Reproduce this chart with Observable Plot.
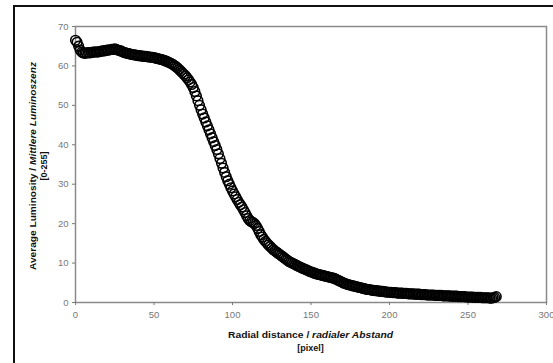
<!DOCTYPE html>
<html>
<head>
<meta charset="utf-8">
<script src="https://cdn.jsdelivr.net/npm/d3@7"></script>
<script src="https://cdn.jsdelivr.net/npm/@observablehq/plot@0.6"></script>
<style>
  html, body { margin: 0; padding: 0; background: #fff; }
  #wrap { position: relative; width: 553px; height: 363px; overflow: hidden; }
  #border { position: absolute; left: 13px; top: 5px; width: 700px; height: 500px;
            border-top: 2px solid #111; border-left: 2px solid #111; pointer-events: none; }
</style>
</head>
<body>
<div id="wrap"><div id="border"></div></div>
<script>
// Radial distance in pixels (one sample per pixel, 0..268)
const radialDistance = d3.range(0, 269);
// Average luminosity [0-255] for each radial distance
const luminosity = [
  66.5, 66.0, 65.0, 64.0, 63.5, 63.3, 63.2, 63.3, 63.4, 63.3,
  63.4, 63.5, 63.5, 63.6, 63.5, 63.6, 63.7, 63.8, 63.8, 63.9,
  64.0, 64.0, 64.1, 64.2, 64.2, 64.3, 64.2, 64.0, 63.9, 63.8,
  63.6, 63.4, 63.3, 63.2, 63.1, 63.0, 62.9, 62.8, 62.8, 62.7,
  62.6, 62.6, 62.5, 62.5, 62.4, 62.4, 62.3, 62.3, 62.2, 62.2,
  62.1, 62.0, 61.9, 61.8, 61.7, 61.6, 61.5, 61.3, 61.2, 61.0,
  60.8, 60.6, 60.4, 60.1, 59.8, 59.5, 59.1, 58.7, 58.3, 57.9,
  57.5, 57.0, 56.5, 55.9, 55.3, 54.5, 53.5, 52.4, 51.2, 50.0,
  48.9, 47.8, 46.8, 45.8, 44.8, 43.8, 42.8, 41.8, 40.8, 39.8,
  38.8, 37.7, 36.5, 35.3, 34.1, 33.0, 31.9, 30.9, 30.0, 29.1,
  28.3, 27.5, 26.8, 26.1, 25.4, 24.8, 24.2, 23.5, 22.8, 22.0,
  21.3, 20.8, 20.5, 20.3, 20.0, 19.5, 18.8, 18.0, 17.2, 16.6,
  16.0, 15.5, 15.0, 14.6, 14.2, 13.8, 13.4, 13.1, 12.8, 12.5,
  12.2, 11.9, 11.6, 11.3, 11.0, 10.7, 10.4, 10.2, 10.0, 9.8,
  9.6, 9.4, 9.2, 9.0, 8.8, 8.6, 8.5, 8.3, 8.1, 7.9,
  7.8, 7.6, 7.5, 7.3, 7.2, 7.1, 7.0, 6.9, 6.8, 6.7,
  6.6, 6.5, 6.4, 6.3, 6.2, 6.1, 5.9, 5.7, 5.5, 5.3,
  5.1, 4.9, 4.8, 4.6, 4.5, 4.4, 4.3, 4.2, 4.1, 4.0,
  3.9, 3.8, 3.7, 3.6, 3.5, 3.4, 3.3, 3.3, 3.2, 3.1,
  3.1, 3.0, 3.0, 2.9, 2.9, 2.8, 2.8, 2.7, 2.7, 2.6,
  2.6, 2.6, 2.5, 2.5, 2.5, 2.4, 2.4, 2.4, 2.4, 2.3,
  2.3, 2.3, 2.2, 2.2, 2.2, 2.2, 2.1, 2.1, 2.1, 2.1,
  2.0, 2.0, 2.0, 2.0, 1.9, 1.9, 1.9, 1.9, 1.9, 1.8,
  1.8, 1.8, 1.8, 1.8, 1.7, 1.7, 1.7, 1.7, 1.7, 1.6,
  1.6, 1.6, 1.6, 1.6, 1.5, 1.5, 1.5, 1.5, 1.5, 1.4,
  1.4, 1.4, 1.4, 1.4, 1.3, 1.3, 1.3, 1.3, 1.3, 1.2,
  1.2, 1.2, 1.2, 1.2, 1.1, 1.1, 1.2, 1.3, 1.5
];
const xTicks = [0, 50, 100, 150, 200, 250, 300];
const yTicks = [0, 10, 20, 30, 40, 50, 60, 70];
const xTitle = ["Radial distance / ", "radialer Abstand"];
const xTitle2 = "[pixel]";
const yTitle = ["Average Luminosity / ", "Mittlere Luminoszenz"];
const yTitle2 = "[0-255]";

const data = radialDistance.map((d, i) => ({x: d, y: luminosity[i]}));

const plot = Plot.plot({
  width: 553,
  height: 363,
  marginLeft: 75,
  marginRight: 7,
  marginTop: 26,
  marginBottom: 61,
  style: {fontFamily: "'Liberation Sans', Arial, sans-serif", fontSize: "9.5px", background: "transparent", overflow: "visible"},
  x: {domain: [0, 300], label: null},
  y: {domain: [0, 70], label: null},
  marks: [
    Plot.frame({stroke: "#8a8a8a", strokeWidth: 1.5}),
    Plot.axisX({ticks: xTicks, tickSize: 3, tickPadding: 6, color: "#777", label: null}),
    Plot.axisY({ticks: yTicks, tickSize: 3, tickPadding: 4, color: "#777", label: null}),
    Plot.dot(data, {x: "x", y: "y", r: 4.8, stroke: "#000", strokeWidth: 1.6, fill: "none"})
  ]
});

const svg = d3.select(plot);
const xs = plot.scale("x"), ys = plot.scale("y");
const cx = (xs.apply(0) + xs.apply(300)) / 2;
const cy = (ys.apply(0) + ys.apply(70)) / 2 + 2;

// X axis title
const xt = svg.append("text")
  .attr("x", cx).attr("y", ys.apply(0) + 36)
  .attr("text-anchor", "middle")
  .attr("font-size", 9).attr("font-weight", "bold").attr("fill", "#111")
  .attr("textLength", 165).attr("lengthAdjust", "spacingAndGlyphs");
xt.append("tspan").text(xTitle[0]);
xt.append("tspan").attr("font-style", "italic").text(xTitle[1]);
svg.append("text")
  .attr("x", cx).attr("y", ys.apply(0) + 49)
  .attr("text-anchor", "middle")
  .attr("font-size", 9).attr("font-weight", "bold").attr("fill", "#111")
  .text(xTitle2);

// Y axis title
const yt = svg.append("text")
  .attr("transform", `translate(36,${cy}) rotate(-90)`)
  .attr("text-anchor", "middle")
  .attr("font-size", 9).attr("font-weight", "bold").attr("fill", "#111")
  .attr("textLength", 208).attr("lengthAdjust", "spacingAndGlyphs");
yt.append("tspan").text(yTitle[0]);
yt.append("tspan").attr("font-style", "italic").text(yTitle[1]);
svg.append("text")
  .attr("transform", `translate(47,${cy}) rotate(-90)`)
  .attr("text-anchor", "middle")
  .attr("font-size", 9).attr("font-weight", "bold").attr("fill", "#111")
  .text(yTitle2);

document.getElementById("wrap").prepend(plot);
</script>
</body>
</html>
